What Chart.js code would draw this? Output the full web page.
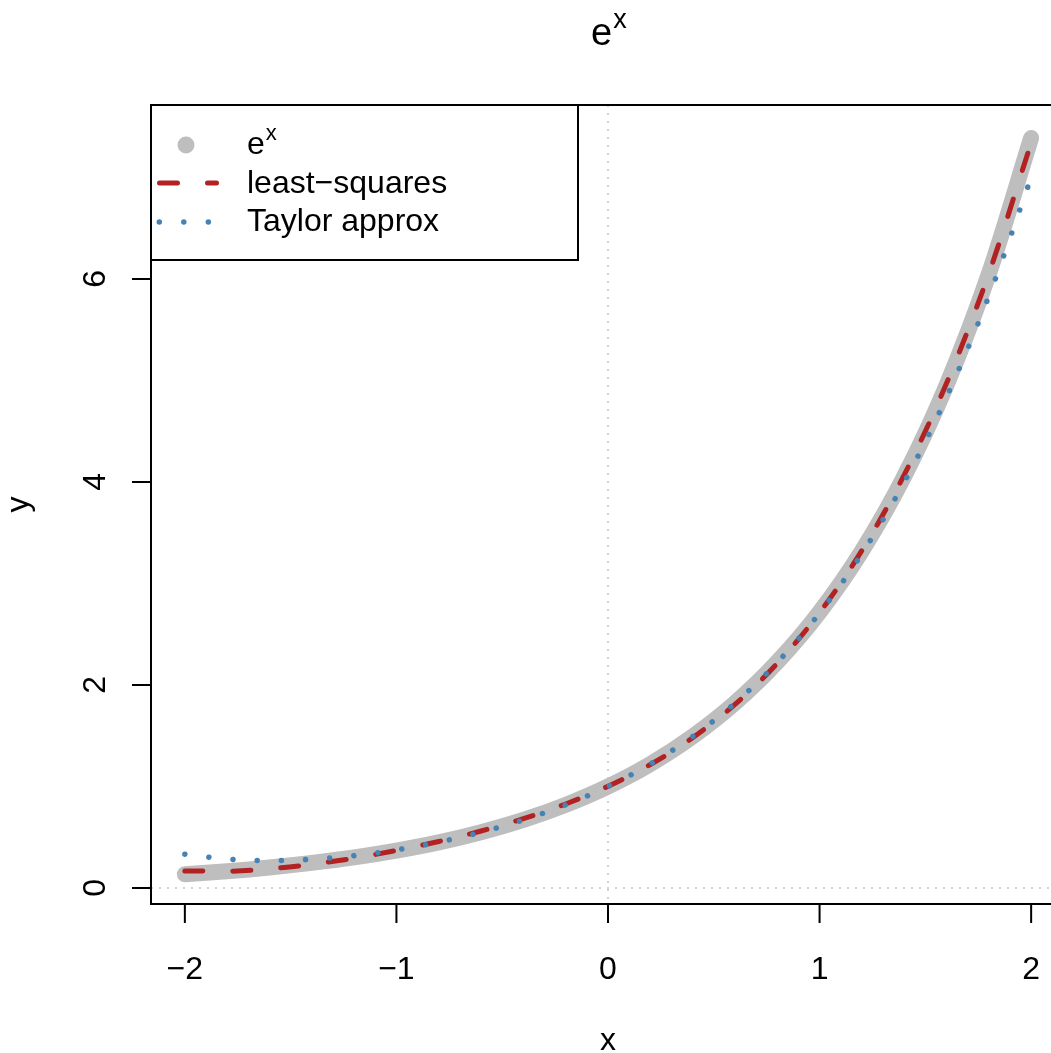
<!DOCTYPE html>
<html>
<head>
<meta charset="utf-8">
<script src="https://cdn.jsdelivr.net/npm/chart.js"></script>
<style>
  html, body { margin: 0; padding: 0; overflow: hidden; background: #fff; }
  canvas { display: block; }
</style>
</head>
<body>
<canvas id="grafico" width="1066" height="1053"></canvas>
<script>
// --- datos ---
const xs = [-2.0, -1.8, -1.6, -1.4, -1.2, -1.0, -0.8, -0.6, -0.4, -0.2, 0.0,
            0.2, 0.4, 0.6, 0.8, 1.0, 1.2, 1.4, 1.6, 1.8, 2.0];
const expVals = [0.135, 0.165, 0.202, 0.247, 0.301, 0.368, 0.449, 0.549, 0.670, 0.819, 1.000,
                 1.221, 1.492, 1.822, 2.226, 2.718, 3.320, 4.055, 4.953, 6.050, 7.389];
const lsqVals = [0.168, 0.165, 0.189, 0.233, 0.294, 0.370, 0.458, 0.561, 0.683, 0.827, 1.002,
                 1.216, 1.480, 1.808, 2.213, 2.712, 3.325, 4.070, 4.972, 6.053, 7.341];
const taylorVals = [0.333, 0.285, 0.270, 0.283, 0.318, 0.375, 0.452, 0.549, 0.670, 0.819, 1.000,
                    1.221, 1.492, 1.821, 2.222, 2.708, 3.294, 3.997, 4.836, 5.829, 7.000];
const xTicks = [-2, -1, 0, 1, 2];
const yTicks = [0, 2, 4, 6];
const leyenda = ["e", "least\u2212squares", "Taylor approx"];

const GRIS = "#bebebe";
const ROJO = "#b22222";
const AZUL = "#4682b4";
const FUENTE = "'Liberation Sans', Arial, sans-serif";

function puntos(vals) {
    return xs.map((x, i) => ({ x: x, y: vals[i] }));
}

function textoConExponente(ctx, base, sup, x, y, size, supSize, supRise) {
    ctx.font = size + "px " + FUENTE;
    ctx.fillText(base, x, y);
    const w = ctx.measureText(base).width;
    ctx.font = supSize + "px " + FUENTE;
    ctx.fillText(sup, x + w + 1, y - supRise);
}

const decoracion = {
    id: "decoracion",
    beforeDatasetsDraw(chart) {
        const ctx = chart.ctx;
        const a = chart.chartArea;
        const sx = chart.scales.x, sy = chart.scales.y;
        ctx.save();
        ctx.strokeStyle = "#d3d3d3";
        ctx.lineWidth = 2;
        ctx.setLineDash([2, 6]);
        const x0 = sx.getPixelForValue(0);
        const y0 = sy.getPixelForValue(0);
        ctx.beginPath();
        ctx.moveTo(x0, a.top); ctx.lineTo(x0, a.bottom);
        ctx.moveTo(a.left, y0); ctx.lineTo(a.right, y0);
        ctx.stroke();
        ctx.restore();
    },
    afterDraw(chart) {
        const ctx = chart.ctx;
        const a = chart.chartArea;
        const sx = chart.scales.x, sy = chart.scales.y;
        ctx.save();
        ctx.fillStyle = "#000";
        ctx.strokeStyle = "#000";
        ctx.lineWidth = 2;

        // caja
        ctx.strokeRect(a.left, a.top, a.right - a.left, a.bottom - a.top);

        // eje x
        ctx.beginPath();
        xTicks.forEach(v => {
            const p = sx.getPixelForValue(v);
            ctx.moveTo(p, a.bottom); ctx.lineTo(p, a.bottom + 19);
        });
        ctx.stroke();
        ctx.font = "32px " + FUENTE;
        ctx.textAlign = "center";
        ctx.textBaseline = "alphabetic";
        xTicks.forEach(v => {
            ctx.fillText(v < 0 ? "\u2212" + Math.abs(v) : String(v), sx.getPixelForValue(v), 979);
        });
        ctx.fillText("x", (a.left + a.right) / 2, 1050);

        // eje y
        ctx.beginPath();
        yTicks.forEach(v => {
            const p = sy.getPixelForValue(v);
            ctx.moveTo(a.left, p); ctx.lineTo(a.left - 19, p);
        });
        ctx.stroke();
        yTicks.forEach(v => {
            ctx.save();
            ctx.translate(105, sy.getPixelForValue(v));
            ctx.rotate(-Math.PI / 2);
            ctx.fillText(String(v), 0, 0);
            ctx.restore();
        });
        ctx.save();
        ctx.translate(28, (a.top + a.bottom) / 2);
        ctx.rotate(-Math.PI / 2);
        ctx.fillText("y", 0, 0);
        ctx.restore();

        // título
        ctx.textAlign = "left";
        textoConExponente(ctx, "e", "x", 591, 45, 38, 27, 17);

        // leyenda
        const lx = a.left, ly = a.top, lw = 427, lh = 155;
        ctx.fillStyle = "#fff";
        ctx.fillRect(lx, ly, lw, lh);
        ctx.strokeRect(lx, ly, lw, lh);
        ctx.fillStyle = "#000";
        const filas = [154, 192.5, 231];
        textoConExponente(ctx, leyenda[0], "x", 247, filas[0], 32, 22, 14);
        ctx.font = "32px " + FUENTE;
        ctx.fillText(leyenda[1], 247, filas[1]);
        ctx.fillText(leyenda[2], 247, filas[2]);

        ctx.fillStyle = GRIS;
        ctx.beginPath();
        ctx.arc(186, 145, 8.5, 0, Math.PI * 2);
        ctx.fill();

        ctx.lineCap = "round";
        ctx.strokeStyle = ROJO;
        ctx.lineWidth = 5;
        ctx.setLineDash([18, 30]);
        ctx.beginPath();
        ctx.moveTo(159.5, 183); ctx.lineTo(216.5, 183);
        ctx.stroke();

        ctx.strokeStyle = AZUL;
        ctx.lineWidth = 5.5;
        ctx.setLineDash([0.01, 24.5]);
        ctx.beginPath();
        ctx.moveTo(159.3, 222); ctx.lineTo(216, 222);
        ctx.stroke();
        ctx.restore();
    }
};

new Chart(document.getElementById("grafico"), {
    type: "line",
    data: {
        datasets: [
            {
                label: leyenda[2],
                data: puntos(taylorVals),
                borderColor: AZUL,
                borderWidth: 5.5,
                borderDash: [0.01, 24.2],
                borderCapStyle: "round",
                pointRadius: 0,
                cubicInterpolationMode: "monotone",
                order: 1,
                clip: false
            },
            {
                label: leyenda[1],
                data: puntos(lsqVals),
                borderColor: ROJO,
                borderWidth: 5,
                borderDash: [18, 30],
                borderCapStyle: "round",
                pointRadius: 0,
                cubicInterpolationMode: "monotone",
                order: 2,
                clip: false
            },
            {
                label: leyenda[0],
                data: puntos(expVals),
                borderColor: GRIS,
                borderWidth: 16,
                borderCapStyle: "round",
                borderJoinStyle: "round",
                pointRadius: 0,
                cubicInterpolationMode: "monotone",
                order: 3,
                clip: false
            }
        ]
    },
    options: {
        responsive: false,
        animation: false,
        devicePixelRatio: 1,
        layout: { padding: { left: 151, top: 105, right: 1, bottom: 149 } },
        plugins: { legend: { display: false }, tooltip: { enabled: false }, title: { display: false } },
        scales: {
            x: { type: "linear", min: -2.16, max: 2.16, display: false },
            y: { type: "linear", min: -0.158, max: 7.714, display: false }
        }
    },
    plugins: [decoracion]
});
</script>
</body>
</html>
